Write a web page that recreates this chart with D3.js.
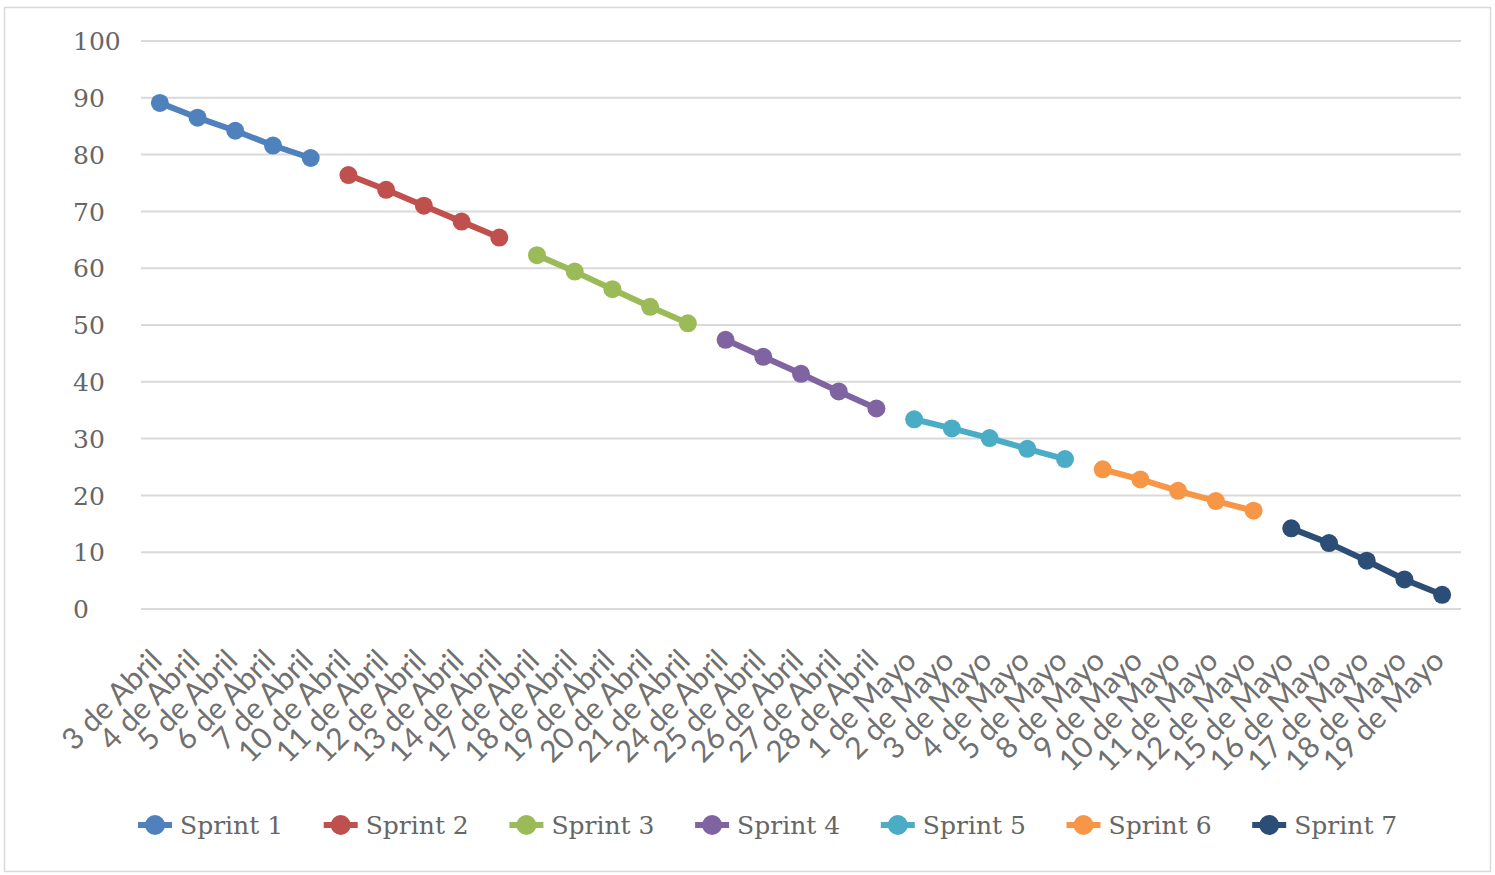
<!DOCTYPE html>
<html>
<head>
<meta charset="utf-8">
<script src="https://cdn.jsdelivr.net/npm/d3@7"></script>
<style>
  html, body { margin: 0; padding: 0; background: #fff; }
  svg { display: block; }
</style>
</head>
<body>
<svg id="chart" width="1495" height="875"></svg>
<script>
// Working days covered by the seven sprints
const categories = [
  "3 de Abril", "4 de Abril", "5 de Abril", "6 de Abril", "7 de Abril",
  "10 de Abril", "11 de Abril", "12 de Abril", "13 de Abril", "14 de Abril",
  "17 de Abril", "18 de Abril", "19 de Abril", "20 de Abril", "21 de Abril",
  "24 de Abril", "25 de Abril", "26 de Abril", "27 de Abril", "28 de Abril",
  "1 de Mayo", "2 de Mayo", "3 de Mayo", "4 de Mayo", "5 de Mayo",
  "8 de Mayo", "9 de Mayo", "10 de Mayo", "11 de Mayo", "12 de Mayo",
  "15 de Mayo", "16 de Mayo", "17 de Mayo", "18 de Mayo", "19 de Mayo"
];

const seriesNames = ["Sprint 1", "Sprint 2", "Sprint 3", "Sprint 4", "Sprint 5", "Sprint 6", "Sprint 7"];
const seriesColors = ["#4F81BD", "#C0504D", "#9BBB59", "#8064A2", "#4BACC6", "#F79646", "#2C4D75"];

// Remaining work per day, one array per sprint (five days each)
const sprint1 = [89.1, 86.5, 84.2, 81.6, 79.4];
const sprint2 = [76.4, 73.8, 71.0, 68.2, 65.4];
const sprint3 = [62.3, 59.4, 56.3, 53.2, 50.3];
const sprint4 = [47.4, 44.4, 41.4, 38.3, 35.3];
const sprint5 = [33.4, 31.8, 30.1, 28.2, 26.4];
const sprint6 = [24.6, 22.8, 20.8, 19.0, 17.3];
const sprint7 = [14.2, 11.6, 8.5, 5.2, 2.5];

const yTicks = [0, 10, 20, 30, 40, 50, 60, 70, 80, 90, 100];

const sprintValues = [sprint1, sprint2, sprint3, sprint4, sprint5, sprint6, sprint7];

const svg = d3.select("#chart");
const W = 1495, H = 875;

// Outer frame
svg.append("rect")
  .attr("x", 4.5).attr("y", 7.5)
  .attr("width", W - 9).attr("height", H - 11)
  .attr("fill", "#fff").attr("stroke", "#d9d9d9").attr("stroke-width", 1.5);

const plot = { left: 141, right: 1461, top: 41, bottom: 609 };

const x = d3.scalePoint().domain(categories).range([plot.left, plot.right]).padding(0.5);
const y = d3.scaleLinear().domain([0, 100]).range([plot.bottom, plot.top]);

// Horizontal gridlines
svg.append("g")
  .selectAll("line")
  .data(yTicks)
  .join("line")
  .attr("x1", plot.left).attr("x2", plot.right)
  .attr("y1", d => y(d)).attr("y2", d => y(d))
  .attr("stroke", "#d9d9d9").attr("stroke-width", 2);

// Y axis labels (left-aligned column)
const yAxis = d3.axisLeft(y).tickValues(yTicks).tickSize(0).tickPadding(0);
const yg = svg.append("g").attr("transform", "translate(73,0)").call(yAxis);
yg.select(".domain").remove();
yg.selectAll("text")
  .attr("text-anchor", "start")
  .attr("x", 0)
  .attr("dy", "0.35em")
  .attr("fill", "#666")
  .style("font-family", "'DejaVu Serif', serif")
  .style("font-size", "25px");

// X axis labels rotated 45 degrees
const xAxis = d3.axisBottom(x).tickSize(0).tickPadding(0);
const xg = svg.append("g").attr("transform", `translate(0,${plot.bottom})`).call(xAxis);
xg.select(".domain").remove();
xg.selectAll("text")
  .attr("text-anchor", "end")
  .attr("dy", "0.35em")
  .attr("y", 0)
  .attr("transform", "translate(-4,46) rotate(-45)")
  .attr("fill", "#707070")
  .style("font-family", "Lato, sans-serif")
  .style("font-size", "30px");

// One line-with-markers per sprint
const line = d3.line().x(d => x(d.cat)).y(d => y(d.value));

const series = seriesNames.map((name, i) => ({
  name,
  color: seriesColors[i],
  points: sprintValues[i].map((v, j) => ({ cat: categories[i * 5 + j], value: v }))
}));

const sg = svg.append("g").selectAll("g").data(series).join("g");
sg.append("path")
  .attr("d", d => line(d.points))
  .attr("fill", "none")
  .attr("stroke", d => d.color)
  .attr("stroke-width", 6)
  .attr("stroke-linejoin", "round");
sg.selectAll("circle")
  .data(d => d.points.map(p => ({ ...p, color: d.color })))
  .join("circle")
  .attr("cx", d => x(d.cat))
  .attr("cy", d => y(d.value))
  .attr("r", 9)
  .attr("fill", d => d.color);

// Legend
const legendY = 825;
const legendX0 = 155, legendStep = 185.7;
const lg = svg.append("g").selectAll("g").data(series).join("g")
  .attr("transform", (d, i) => `translate(${legendX0 + i * legendStep},${legendY})`);
lg.append("line")
  .attr("x1", -17).attr("x2", 17).attr("y1", 0).attr("y2", 0)
  .attr("stroke", d => d.color).attr("stroke-width", 6);
lg.append("circle").attr("r", 10).attr("fill", d => d.color);
lg.append("text")
  .attr("x", 25).attr("y", 0).attr("dy", "0.35em")
  .attr("fill", "#666")
  .style("font-family", "'DejaVu Serif', serif")
  .style("font-size", "25px")
  .text(d => d.name);
</script>
</body>
</html>
